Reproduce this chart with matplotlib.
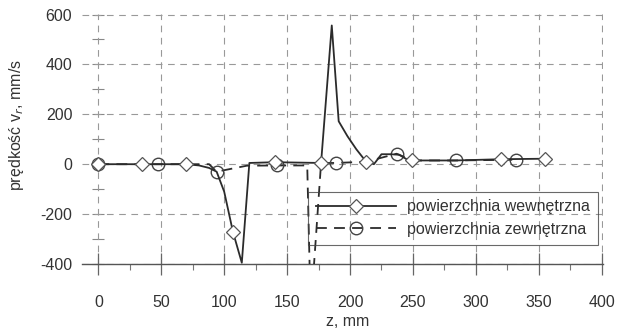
import matplotlib.pyplot as plt
from matplotlib.ticker import MultipleLocator, NullFormatter

plt.rcParams['font.family'] = ['Liberation Sans', 'DejaVu Sans']
plt.rcParams['axes.unicode_minus'] = False

# Data
z_in = [0, 35, 70, 80, 88, 94, 100, 107, 114, 120, 140, 177, 185.5, 191, 198, 205,
        210, 213, 219, 225, 232, 239, 245, 249, 284, 320, 355]
v_in = [0, 0, 0, -5, -15, -30, -110, -272, -395, 5, 8, 5, 556, 172, 112, 60,
        28, 10, 0, 40, 40, 38, 20, 15, 15, 20, 22]
marks_in = [0, 1, 2, 7, 10, 11, 17, 23, 25, 26]

z_out = [0, 47.5, 88, 94, 118, 142, 166, 168, 171, 177, 189, 213, 237, 250, 284.5, 332]
v_out = [0, 0, 0, -30, -6, -5, -5, -430, -430, 5, 5, 10, 42, 15, 15, 18]
marks_out = [0, 1, 3, 5, 10, 12, 14, 15]

x_ticks = [0, 50, 100, 150, 200, 250, 300, 350, 400]
y_ticks = [-400, -200, 0, 200, 400, 600]

label_in = 'powierzchnia wewnętrzna'
label_out = 'powierzchnia zewnętrzna'

fig = plt.figure(figsize=(6.19, 3.31), dpi=100)
ax = fig.add_axes([0.1325, 0.2024, 0.8415, 0.7553])

ink = '#2b2b2b'
ax.plot(z_in, v_in, color=ink, lw=1.3, marker='D', ms=7, mfc='white', mec='#555555',
        mew=0.9, markevery=marks_in, label=label_in, zorder=4)
ax.plot(z_out, v_out, color=ink, lw=1.3, ls=(0, (6, 4)), marker='o', ms=9, mfc='none',
        mec='#444444', mew=1.0, markevery=marks_out, label=label_out, zorder=3)

ax.set_xlim(-13, 401)
ax.set_ylim(-400, 602)
ax.set_xticks(x_ticks)
ax.set_yticks(y_ticks)
ax.xaxis.set_minor_locator(MultipleLocator(25))

ax.grid(True, which='major', color='#999999', lw=0.8, ls=(0, (6, 5)))
for side in ['left', 'top', 'right']:
    ax.spines[side].set_visible(False)
ax.spines['bottom'].set_color('#555555')
ax.spines['bottom'].set_linewidth(1.0)

ax.tick_params(axis='x', which='major', direction='inout', length=16, width=0.9,
               color='#666666', pad=14, labelsize=11.5, labelcolor='#333333')
ax.tick_params(axis='x', which='minor', direction='out', length=4, width=0.8, color='#777777')
ax.tick_params(axis='y', which='major', length=0, pad=7, labelsize=11.5, labelcolor='#333333')

# y axis ticks drawn along z = 0
yax0 = ax.secondary_yaxis(0, transform=ax.transData)
yax0.spines['left'].set_visible(False)
yax0.set_yticks(y_ticks)
yax0.yaxis.set_major_formatter(NullFormatter())
yax0.yaxis.set_minor_locator(MultipleLocator(100))
yax0.tick_params(which='both', direction='inout', length=8, width=0.8, color='#888888')

ax.set_xlabel('z, mm', fontsize=11.5, color='#333333')
ax.xaxis.set_label_coords(0.51, -0.2)
ax.set_ylabel('prędkość v$_r$, mm/s', fontsize=11.5, color='#333333')
ax.yaxis.set_label_coords(-0.108, 0.556)

leg = ax.legend(loc='upper left', bbox_to_anchor=(0.434, 0.29), borderaxespad=0,
                fancybox=False, edgecolor='#444444', fontsize=11.5,
                handlelength=5.0, handletextpad=0.7, labelspacing=0.45, borderpad=0.5)
leg.get_frame().set_facecolor('none')
leg.get_frame().set_linewidth(0.8)
for t in leg.get_texts():
    t.set_color('#333333')

fig.savefig('out.png', dpi=100)
